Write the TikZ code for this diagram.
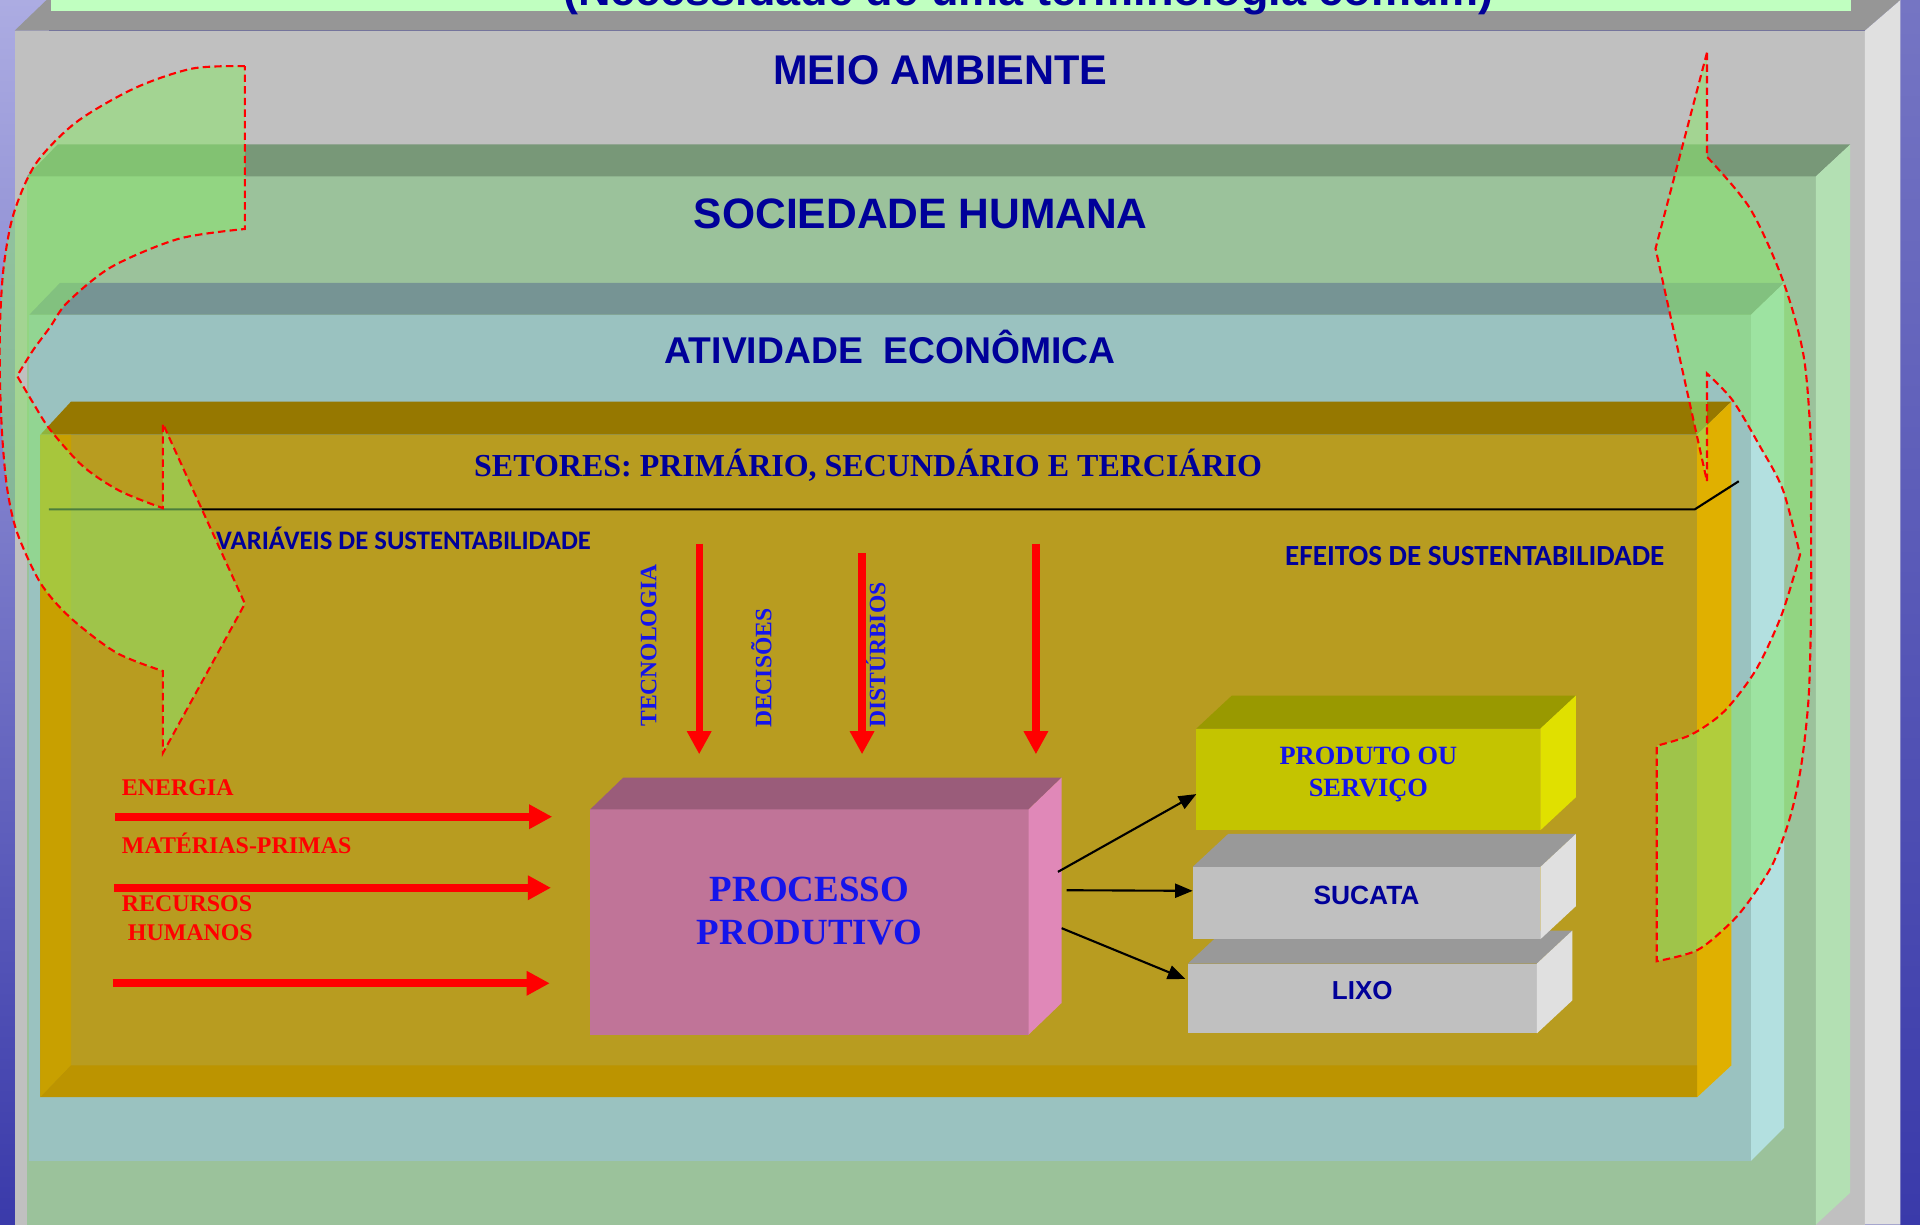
\documentclass[tikz,border=0pt]{standalone}
\usepackage{fontspec}
\setmainfont{Liberation Serif}
\newfontfamily\arialfont{Liberation Sans}
\newfontfamily\calibrifont{Carlito}
\usepackage{tikz}
\usetikzlibrary{arrows.meta,calc,positioning}

\definecolor{bgblue}{RGB}{58,58,170}
\definecolor{bgtop}{RGB}{172,172,226}
\definecolor{bgmid}{RGB}{205,205,238}
\definecolor{meiofront}{RGB}{192,192,192}
\definecolor{meiotop}{RGB}{150,150,150}
\definecolor{meioside}{RGB}{224,224,224}
\definecolor{titlegreen}{RGB}{192,255,192}
\definecolor{socfront}{RGB}{155,194,155}
\definecolor{soctop}{RGB}{120,152,120}
\definecolor{socside}{RGB}{179,224,179}
\definecolor{ativfront}{RGB}{154,194,192}
\definecolor{ativtop}{RGB}{118,148,148}
\definecolor{ativside}{RGB}{179,224,224}
\definecolor{setfront}{RGB}{184,156,32}
\definecolor{settop}{RGB}{150,120,0}
\definecolor{setleft}{RGB}{200,160,0}
\definecolor{setbottom}{RGB}{188,148,0}
\definecolor{setside}{RGB}{224,176,0}
\definecolor{procfront}{RGB}{192,116,152}
\definecolor{proctop}{RGB}{154,92,122}
\definecolor{procside}{RGB}{224,136,184}
\definecolor{prodfront}{RGB}{196,196,0}
\definecolor{prodtop}{RGB}{153,153,0}
\definecolor{prodside}{RGB}{224,224,0}
\definecolor{restfront}{RGB}{192,192,192}
\definecolor{resttop}{RGB}{153,153,153}
\definecolor{restside}{RGB}{224,224,224}
\definecolor{navy}{RGB}{0,0,153}
\definecolor{vivblue}{RGB}{20,20,235}
\definecolor{loopgreen}{RGB}{140,230,110}

\newlength{\pxu}
\setlength{\pxu}{0.012245cm}

% top and side faces of a box node
\newcommand{\boxfaces}[4]{%
  \fill[#2] (#1.north west) -- ++(#4) -- ($(#1.north east)+(#4)$) -- (#1.north east) -- cycle;
  \fill[#3] (#1.north east) -- ++(#4) -- ($(#1.south east)+(#4)$) -- (#1.south east) -- cycle;
}

\tikzset{
  layername/.style={inner sep=0pt, anchor=base, text=navy, font=\arialfont\bfseries\fontsize{11.8}{14}\selectfont},
  facebox/.style={inner sep=0pt, outer sep=0pt},
  boxtext/.style={inner sep=0pt, align=center},
  redlabel/.style={inner sep=0pt, anchor=base west, text=red, align=left, font=\bfseries\fontsize{6.8}{8.3}\selectfont},
  sidelabel/.style={inner sep=0pt, anchor=base west, rotate=90, text=vivblue, font=\bfseries\fontsize{6.7}{8}\selectfont},
  inarrow/.style={red, line width=2.3pt, -{Triangle[width=6.6pt,length=6.6pt]}},
  outarrow/.style={black, line width=0.6pt, -{Triangle[width=4pt,length=5pt]}},
  looparrow/.style={fill=loopgreen, fill opacity=0.55, draw=red, line width=0.6pt, dash pattern=on 2.1pt off 1.2pt}
}

\begin{document}
\begin{tikzpicture}[x=0.012245cm, y=-0.012245cm]
\useasboundingbox (0,0) rectangle (1568,1000);
\clip (0,0) rectangle (1568,1000);

% background
\fill[bgblue] (0,0) rectangle (1568,1000);
\shade[top color=bgtop, middle color=bgmid, bottom color=bgblue] (0,0) rectangle (40,1000);
\shade[top color=bgblue!70!white, bottom color=bgblue] (1550,0) rectangle (1568,1000);

% meio ambiente
\fill[meiofront] (12,25) rectangle (1523,1000);
\fill[meiotop] (12,25) -- (38,0) -- (1552,0) -- (1523,25) -- cycle;
\fill[meioside] (1523,25) -- (1552,0) -- (1552,1000) -- (1523,1000) -- cycle;
\fill[titlegreen] (42,0) rectangle (1512,9);
\node[layername, font=\arialfont\bfseries\fontsize{12.8}{15}\selectfont] (titulo) at (840,4.5) {(Necessidade de uma terminologia comum)};
\node[layername] (meio) at (768,69) {MEIO AMBIENTE};

% sociedade humana
\fill[socfront] (22,144) rectangle (1483,1000);
\fill[soctop] (22,144) -- (47,118) -- (1511,118) -- (1483,144) -- cycle;
\fill[socside] (1483,144) -- (1511,118) -- (1511,974) -- (1483,1000) -- cycle;
\node[layername, font=\arialfont\bfseries\fontsize{12.1}{14}\selectfont] (sociedade) at (752,187) {SOCIEDADE HUMANA};

% atividade economica
\fill[ativfront] (24,257) rectangle (1430,948);
\fill[ativtop] (24,257) -- (49,231) -- (1457,231) -- (1430,257) -- cycle;
\fill[ativside] (1430,257) -- (1457,231) -- (1457,921) -- (1430,948) -- cycle;
\node[layername, font=\arialfont\bfseries\fontsize{10.6}{13}\selectfont] (atividade) at (727,297) {ATIVIDADE\ \ ECONÔMICA};

% setores
\fill[setfront] (33,355) rectangle (1386,896);
\fill[settop] (33,355) -- (58,328) -- (1414,328) -- (1386,355) -- cycle;
\fill[setside] (1386,355) -- (1414,328) -- (1414,870) -- (1386,896) -- cycle;
\fill[setleft] (33,355) -- (58,355) -- (58,870) -- (33,896) -- cycle;
\fill[setbottom] (33,896) -- (58,870) -- (1386,870) -- (1386,896) -- cycle;
\node[layername, font=\bfseries\fontsize{9.1}{11}\selectfont] (setores) at (709,389) {SETORES: PRIMÁRIO, SECUNDÁRIO E TERCIÁRIO};
\draw[line width=0.6pt] (40,416) -- (1384,416) -- (1420,393);

\node[inner sep=0pt, anchor=base west, text=navy, font=\calibrifont\bfseries\fontsize{7.6}{9}\selectfont] (variaveis) at (176,449) {VARIÁVEIS DE SUSTENTABILIDADE};
\node[inner sep=0pt, anchor=base west, text=navy, font=\calibrifont\bfseries\fontsize{8.3}{10}\selectfont] (efeitos) at (1049,462) {EFEITOS DE SUSTENTABILIDADE};

% processo produtivo
\node[facebox, fill=procfront, minimum width={358*\pxu}, minimum height={184*\pxu}] (proc) at (661,753) {};
\boxfaces{proc}{proctop}{procside}{27,-26}
\node[boxtext, text=vivblue, font=\bfseries\fontsize{10.5}{12.5}\selectfont] (proctext) at ($(proc.center)+(0,-9)$) {PROCESSO\\PRODUTIVO};

% resultados
\node[facebox, fill=prodfront, minimum width={281*\pxu}, minimum height={83*\pxu}] (prod) at (1117.5,636.5) {};
\boxfaces{prod}{prodtop}{prodside}{29,-27}
\node[boxtext, text=vivblue, font=\bfseries\fontsize{7.5}{9}\selectfont] (prodtext) at ($(prod.center)+(0,-4)$) {PRODUTO OU\\SERVIÇO};

\node[facebox, fill=restfront, minimum width={285*\pxu}, minimum height={57*\pxu}] (lixo) at (1112.5,815.5) {};
\boxfaces{lixo}{resttop}{restside}{29,-27}
\node[facebox, fill=restfront, minimum width={284*\pxu}, minimum height={59*\pxu}] (sucata) at (1116,737.5) {};
\boxfaces{sucata}{resttop}{restside}{29,-27}
\node[boxtext, text=navy, font=\arialfont\bfseries\fontsize{7.5}{9}\selectfont] (sucatatext) at ($(sucata.center)+(0,-6.5)$) {SUCATA};
\node[boxtext, text=navy, font=\arialfont\bfseries\fontsize{7.4}{9}\selectfont] (lixotext) at ($(lixo.center)+(0,-6.5)$) {LIXO};

\draw[outarrow] ($(proc.north east)+(24,51)$) -- ($(prod.west)+(0,12)$);
\draw[outarrow] ($(proc.north east)+(31,66)$) -- ($(sucata.west)+(0,-10)$);
\draw[outarrow] ($(proc.north east)+(27,97)$) -- ($(lixo.west)+(-2,-16)$);

% entradas
\node[redlabel] (energia) at (99,650) {ENERGIA};
\node[redlabel] (materias) at (99,697) {MATÉRIAS-PRIMAS};
\node[redlabel] (recursos) at (99,768) {RECURSOS\\\hspace{1.7pt}HUMANOS};
\foreach \n/\y/\a/\b in {ene/667/94/451, mat/725/93/450, rec/803/92/449}
         {
           \coordinate (\n0) at (\a,\y);
           \coordinate (\n1) at (\b,\y);
           \draw[inarrow] (\n0) -- (\n1);
         }

\node[sidelabel] (tecnologia) at (536,594) {TECNOLOGIA};
\node[sidelabel] (decisoes) at (630,595) {DECISÕES};
\node[sidelabel] (disturbios) at (723,595) {DISTÚRBIOS};
\foreach \n/\x/\t in {down1/571/444, down2/704/452, down3/846/444}
         {
           \coordinate (\n0) at (\x,\t);
           \coordinate (\n1) at (\x,616);
           \draw[inarrow, line width=2.1pt] (\n0) -- (\n1);
         }

% setas curvas
\path[looparrow] plot[smooth] coordinates {(200,54) (157,56) (110,72) (62,100) (29,134) (11,175) (3,218) (0,265) (0,312) (2,359) (6,400) (14,435) (33,476) (57,504) (95,533) (133,548)}
  -- (133,615) -- (200,493) -- (133,346) -- (133,415)
  -- plot[smooth] coordinates {(133,415) (98,401) (68,381) (41,351) (27,329) (14,307)}
  -- plot[smooth] coordinates {(14,307) (27,286) (41,267) (55,247) (91,218) (146,195) (200,187)}
  -- cycle;

\path[looparrow] (1394,43) -- (1352,203) -- (1394,393) -- (1394,305)
  -- plot[smooth] coordinates {(1394,305) (1415,327) (1437,364) (1456,400) (1470,453)}
  -- plot[smooth] coordinates {(1470,453) (1455,502) (1434,547) (1408,581) (1381,600) (1353,609)}
  -- (1353,785)
  -- plot[smooth] coordinates {(1353,785) (1386,776) (1413,754) (1429,735) (1448,705) (1462,667) (1471,625) (1477,570) (1479,500) (1479,420) (1479,364) (1473,291) (1456,229) (1429,170) (1394,128)}
  -- cycle;

\end{tikzpicture}
\end{document}
